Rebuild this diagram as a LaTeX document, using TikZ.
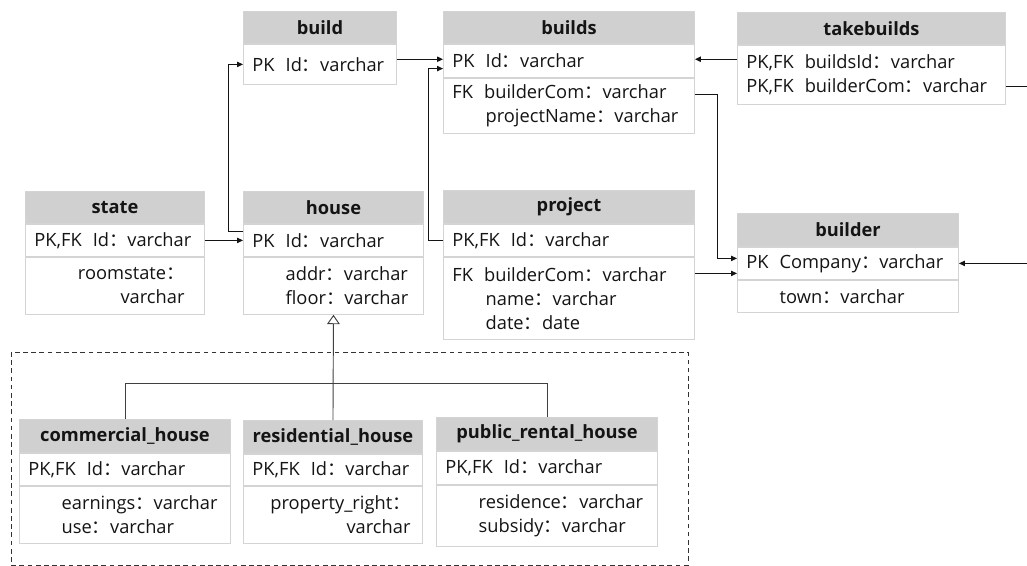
\documentclass[tikz,border=0pt]{standalone}
\usepackage{fontspec}
\setmainfont{Open Sans}
\newfontfamily\cjk{Noto Sans CJK SC}
\usetikzlibrary{positioning,arrows.meta}
\definecolor{thead}{RGB}{208,208,208}
\definecolor{tline}{RGB}{212,212,212}
\definecolor{ink}{RGB}{20,20,20}
\newcommand{\fwc}{{\cjk ：}}
\newcommand{\kg}{\hspace{0.6em}}
\newcommand{\kpad}{\phantom{PK\kg}}
\begin{document}
\begin{tikzpicture}[x=0.03cm, y=-0.03cm,
  hdr/.style={draw=tline, line width=0.8pt, fill=thead, text=ink, font=\fontsize{15.6}{20}\selectfont\bfseries, minimum height=0.96cm, inner sep=0pt, anchor=north west},
  fld/.style={draw=tline, line width=0.8pt, fill=white, text=ink, font=\fontsize{15.6}{20.5}\selectfont, align=left, inner xsep=0.27cm, inner ysep=0pt},
  conn/.style={-{Triangle[length=5pt,width=4.5pt]}, line width=0.8pt, ink},
  gen/.style={line width=0.8pt, black!75},
  inh/.style={-{Triangle[open,length=8pt,width=11pt,fill=white]}, line width=0.8pt, black!75}]
\useasboundingbox (0,0) rectangle (1027,566);

% top row
\node[hdr, minimum width=4.59cm] (bd) at (243,11) {build};
\node[fld, below=0pt of bd, text width=4.05cm, minimum height=1.2cm] (bdPK) {PK\kg Id\fwc varchar};

\node[hdr, minimum width=7.53cm] (bs) at (443,11) {builds};
\node[fld, below=0pt of bs, text width=6.99cm, minimum height=0.99cm] (bsPK) {PK\kg Id\fwc varchar};
\node[fld, below=0pt of bsPK, text width=6.99cm, minimum height=1.65cm] (bsFK) {FK\kg builderCom\fwc varchar\\\kpad projectName\fwc varchar};

\node[hdr, minimum width=8.04cm] (tb) at (737,12) {takebuilds};
\node[fld, below=0pt of tb, text width=7.5cm, minimum height=1.77cm] (tbF) {PK,FK\kg buildsId\fwc varchar\\PK,FK\kg builderCom\fwc varchar};

% middle row
\node[hdr, minimum width=5.37cm] (st) at (25,191) {state};
\node[fld, below=0pt of st, text width=4.83cm, minimum height=0.96cm] (stPK) {PK,FK\kg Id\fwc varchar};
\node[fld, below=0pt of stPK, align=right, text width=4.17cm, minimum width=5.37cm, minimum height=1.71cm] (stAt) {roomstate\fwc\\varchar};

\node[hdr, minimum width=5.4cm] (hs) at (243,191) {house};
\node[fld, below=0pt of hs, text width=4.86cm, minimum height=0.96cm] (hsPK) {PK\kg Id\fwc varchar};
\node[fld, below=0pt of hsPK, text width=4.86cm, minimum height=1.71cm] (hsAt) {\kpad addr\fwc varchar\\\kpad floor\fwc varchar};

\node[hdr, minimum width=7.53cm, minimum height=0.99cm] (pj) at (443,190) {project};
\node[fld, below=0pt of pj, text width=6.99cm, minimum height=0.96cm] (pjPK) {PK,FK\kg Id\fwc varchar};
\node[fld, below=0pt of pjPK, text width=6.99cm, minimum height=2.46cm] (pjFK) {FK\kg builderCom\fwc varchar\\\kpad name\fwc varchar\\\kpad date\fwc date};

\node[hdr, minimum width=6.63cm, minimum height=0.99cm] (br) at (737,213) {builder};
\node[fld, below=0pt of br, text width=6.09cm, minimum height=0.96cm] (brPK) {PK\kg Company\fwc varchar};
\node[fld, below=0pt of brPK, text width=6.09cm, minimum height=0.96cm] (brAt) {\kpad town\fwc varchar};

% subtypes of house
\node[hdr, minimum width=6.33cm, minimum height=0.99cm] (ch) at (19,419) {commercial\_house};
\node[fld, below=0pt of ch, text width=5.79cm, minimum height=0.96cm] (chPK) {PK,FK\kg Id\fwc varchar};
\node[fld, below=0pt of chPK, text width=5.79cm, minimum height=1.71cm] (chAt) {\kpad earnings\fwc varchar\\\kpad use\fwc varchar};

\node[hdr, minimum width=5.37cm, minimum height=0.99cm] (rs) at (243,420) {residential\_house};
\node[fld, below=0pt of rs, text width=4.83cm, minimum height=0.93cm] (rsPK) {PK,FK\kg Id\fwc varchar};
\node[fld, below=0pt of rsPK, align=right, text width=4.65cm, minimum width=5.37cm, minimum height=1.71cm] (rsAt) {property\_right\fwc\\varchar};

\node[hdr, minimum width=6.63cm, minimum height=0.99cm] (pr) at (436,417) {public\_rental\_house};
\node[fld, below=0pt of pr, text width=6.09cm, minimum height=0.99cm] (prPK) {PK,FK\kg Id\fwc varchar};
\node[fld, below=0pt of prPK, text width=6.09cm, minimum height=1.83cm] (prAt) {\kpad residence\fwc varchar\\\kpad subsidy\fwc varchar};

\draw[black!80, line width=0.8pt, dash pattern=on 4pt off 3pt] (11,352) rectangle (688,565);

% connectors
\coordinate (bsIn1) at ([yshift=0.05cm]bsPK.west);
\coordinate (bsIn2) at ([yshift=-0.23cm]bsPK.west);
\coordinate (bsOut) at ([yshift=0.05cm]bsPK.east);
\coordinate (brIn1) at ([yshift=0.15cm]brPK.west);
\coordinate (brIn2) at ([yshift=-0.3cm]brPK.west);
\draw[conn] (stPK.east) -- (hsPK.west);
\draw[conn] ([yshift=0.27cm]hsPK.west) -- ++(-15,0) |- (bdPK.west);
\draw[conn] (bdPK.east |- bsIn1) -- (bsIn1);
\draw[conn] (pjPK.west) -- ++(-15,0) |- (bsIn2);
\draw[conn] (tbF.west |- bsOut) -- (bsOut);
\draw[conn] ([yshift=0.345cm]bsFK.east) -- ++(23,0) |- (brIn1);
\draw[conn] (pjFK.east |- brIn2) -- (brIn2);
\draw[conn] ([yshift=-0.34cm]tbF.east) -- ++(40,0) |- (brPK.east);

% generalisation
\draw[gen] (ch.north) -- ++(0,-36) -| (pr.north);
\draw[inh] (rs.north) -- (hsAt.south);
\end{tikzpicture}
\end{document}
